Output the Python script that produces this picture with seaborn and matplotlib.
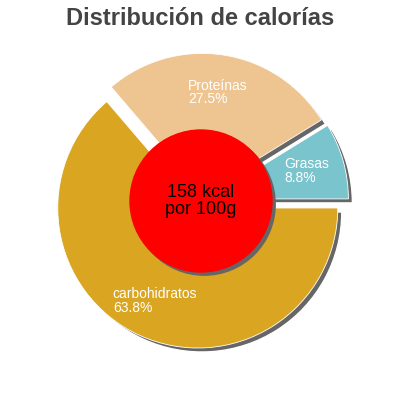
import matplotlib.pyplot as plt
import matplotlib.patches as mpatches
import seaborn as sns

# data, counterclockwise from 3 o'clock
nutrientes = ["Grasas", "Proteínas", "carbohidratos"]
porcentajes = [8.8, 27.5, 63.8]
colores = ["#7AC5CD", "#EEC591", "#DAA520"]
titulo = "Distribución de calorías"
centro_texto = "158 kcal\npor 100g"

sns.set_theme(style="white")
plt.rcParams["font.family"] = ["Liberation Sans", "DejaVu Sans"]

fig = plt.figure(figsize=(4, 4), dpi=100)
ax = fig.add_axes([0, 0, 1, 1])

R = 140.0  # pie radius in pixels
cx, cy = 201.0, 201.0
explode = [0.055] * len(porcentajes)
sh = 4.0 / R

# shadows
ax.pie(porcentajes, explode=explode, colors=["#666666"] * 3, startangle=0,
       center=(sh, -sh), radius=1.0)
ax.add_patch(mpatches.Circle((sh * 0.8, -sh * 0.8), 71 / R, color="#666666", zorder=3))

etiquetas = [f"{n}\n{v}%" for n, v in zip(nutrientes, porcentajes)]
wedges, texts = ax.pie(porcentajes, explode=explode, colors=colores, startangle=0,
                       labels=etiquetas, labeldistance=0.73, radius=1.0,
                       wedgeprops=dict(edgecolor="white", linewidth=0.6),
                       textprops=dict(color="white", fontsize=10))
for t in texts:
    t.set_horizontalalignment("center")
    t.set_verticalalignment("center")
    t.set_multialignment("left")
    t.set_linespacing(0.95)
    t.set_zorder(6)

ax.add_patch(mpatches.Circle((0, 0), 71 / R, color="#FF0000", zorder=4))
ax.text(0, 0, centro_texto, ha="center", va="center", fontsize=13,
        color="black", zorder=5, linespacing=1.0)

ax.set_xlim(-cx / R, (400 - cx) / R)
ax.set_ylim(-(400 - cy) / R, cy / R)
ax.set_aspect("equal")
ax.axis("off")

fig.text(0.5, 1 - 25 / 400, titulo, ha="center", va="baseline",
         fontsize=17, fontweight="bold", color="#444444")

fig.savefig("out.png", dpi=100)
